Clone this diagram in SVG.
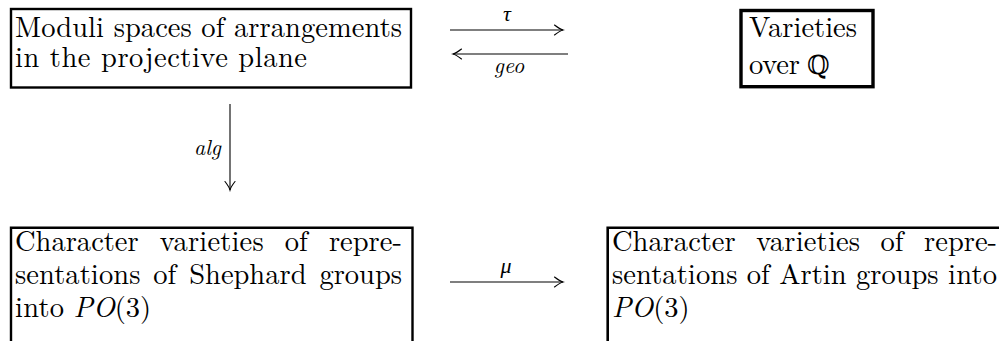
<svg xmlns="http://www.w3.org/2000/svg" width="999" height="341" viewBox="0 0 999 341">
<style>
.t{font-family:'Latin Modern Roman','CMU Serif','Liberation Serif','Nimbus Roman','Nimbus Roman No9 L','FreeSerif','Noto Serif','DejaVu Serif',Georgia,serif;font-size:28.5px;fill:#000}
.m{font-family:'Latin Modern Roman','CMU Serif','Liberation Serif','Nimbus Roman','Nimbus Roman No9 L','FreeSerif','Noto Serif','DejaVu Serif',Georgia,serif;font-size:28.5px;font-style:italic;fill:#000}
.lb{font-family:'Latin Modern Roman','CMU Serif','Liberation Serif','Nimbus Roman','Nimbus Roman No9 L','FreeSerif','Noto Serif','DejaVu Serif',Georgia,serif;font-size:22px;font-style:italic;fill:#000}
.q{font-family:'DejaVu Serif','DejaVu Sans',serif;font-size:26px;fill:#000}
.bx{fill:none;stroke:#000;stroke-width:2.4}
.ar{fill:none;stroke:#000;stroke-width:1.1}
</style>
<defs>
<marker id="ah" viewBox="-10 -6 12 12" refX="0" refY="0" markerWidth="12" markerHeight="12" markerUnits="userSpaceOnUse" orient="auto">
<path d="M-8.5,-5 Q-3,-0.8 0,0 Q-3,0.8 -8.5,5" fill="none" stroke="#000" stroke-width="1.1" stroke-linecap="round"/>
</marker>
</defs>
<g id="moduli">
<rect class="bx" x="11" y="9" width="400" height="78.5"/>
<text class="t" x="15" y="37" textLength="387" lengthAdjust="spacing">Moduli spaces of arrangements</text>
<text class="t" x="15" y="67" textLength="292" lengthAdjust="spacing">in the projective plane</text>
</g>
<g id="varieties">
<rect class="bx" x="741" y="10.5" width="132" height="76.2" style="stroke-width:3.4"/>
<text class="t" x="749" y="37" textLength="108" lengthAdjust="spacing">Varieties</text>
<text class="t" x="749" y="74" textLength="51" lengthAdjust="spacing">over</text>
<text class="q" x="807" y="74">ℚ</text>
</g>
<g id="shephard">
<path class="bx" d="M11,345 V227.7 H412.5 V345"/>
<text class="t" x="15" y="251" textLength="123.7" lengthAdjust="spacing">Character</text>
<text class="t" x="159.8" y="251" textLength="103.9" lengthAdjust="spacing">varieties</text>
<text class="t" x="284.8" y="251" textLength="23" lengthAdjust="spacing">of</text>
<text class="t" x="328.9" y="251" textLength="73" lengthAdjust="spacing">repre-</text>
<text class="t" x="15" y="284" textLength="125.4" lengthAdjust="spacing">sentations</text>
<text class="t" x="153.3" y="284" textLength="23" lengthAdjust="spacing">of</text>
<text class="t" x="189.2" y="284" textLength="117.3" lengthAdjust="spacing">Shephard</text>
<text class="t" x="319.4" y="284" textLength="82.6" lengthAdjust="spacing">groups</text>
<text class="t" x="15" y="317" textLength="49.1" lengthAdjust="spacing">into</text>
<text class="t" x="73.6" y="317"><tspan class="m">PO</tspan>(3)</text>
</g>
<g id="artin">
<path class="bx" d="M607.7,345 V227.7 H1010" style="stroke-width:2.6"/>
<text class="t" x="612" y="251" textLength="123.7" lengthAdjust="spacing">Character</text>
<text class="t" x="756.2" y="251" textLength="103.9" lengthAdjust="spacing">varieties</text>
<text class="t" x="880.6" y="251" textLength="23" lengthAdjust="spacing">of</text>
<text class="t" x="924.1" y="251" textLength="73" lengthAdjust="spacing">repre-</text>
<text class="t" x="612" y="284" textLength="125.4" lengthAdjust="spacing">sentations</text>
<text class="t" x="746.8" y="284" textLength="23" lengthAdjust="spacing">of</text>
<text class="t" x="779.2" y="284" textLength="67.4" lengthAdjust="spacing">Artin</text>
<text class="t" x="856" y="284" textLength="82.6" lengthAdjust="spacing">groups</text>
<text class="t" x="948" y="284" textLength="49.1" lengthAdjust="spacing">into</text>
<text class="t" x="612" y="317"><tspan class="m">PO</tspan>(3)</text>
</g>
<g id="connectors">
<line class="ar" x1="450" y1="30" x2="563" y2="30" marker-end="url(#ah)"/>
<text class="lb" x="507" y="21" text-anchor="middle">τ</text>
<line class="ar" x1="568" y1="54" x2="453" y2="54" marker-end="url(#ah)"/>
<text class="lb" x="509" y="73" text-anchor="middle">geo</text>
<line class="ar" x1="230" y1="104" x2="230" y2="190" marker-end="url(#ah)"/>
<text class="lb" x="221" y="155" text-anchor="end">alg</text>
<line class="ar" x1="450" y1="282" x2="563" y2="282" marker-end="url(#ah)"/>
<text class="lb" x="506" y="273" text-anchor="middle">μ</text>
</g>
</svg>
